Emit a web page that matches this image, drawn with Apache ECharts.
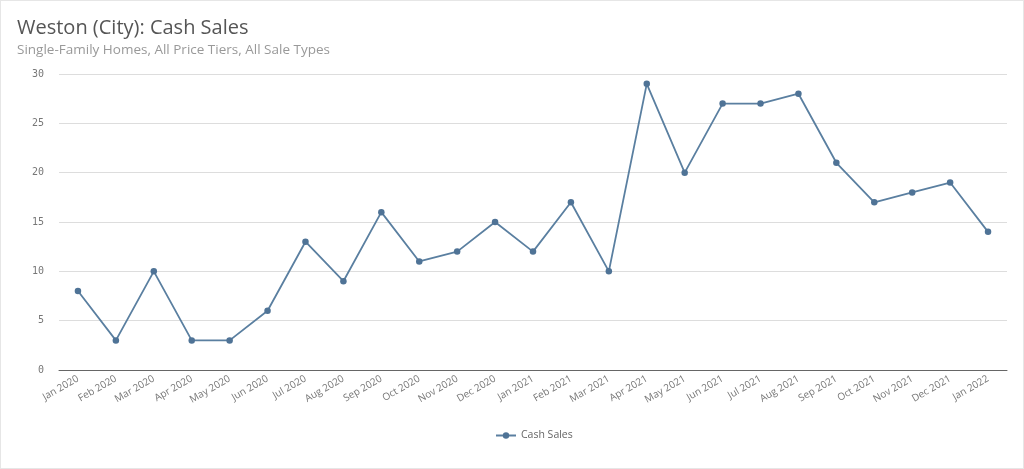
<!DOCTYPE html>
<html><head><meta charset="utf-8">
<script src="https://cdn.jsdelivr.net/npm/echarts@6/dist/echarts.min.js"></script>
<style>html,body{margin:0;padding:0;background:#fff}#c{width:1024px;height:469px;box-sizing:border-box;border:1px solid #e6e6e6}</style>
</head><body><div id="c"></div>
<script>
const categories = ["Jan 2020","Feb 2020","Mar 2020","Apr 2020","May 2020","Jun 2020","Jul 2020","Aug 2020","Sep 2020","Oct 2020","Nov 2020","Dec 2020","Jan 2021","Feb 2021","Mar 2021","Apr 2021","May 2021","Jun 2021","Jul 2021","Aug 2021","Sep 2021","Oct 2021","Nov 2021","Dec 2021","Jan 2022"];
const cashSales = [8,3,10,3,3,6,13,9,16,11,12,15,12,17,10,29,20,27,27,28,21,17,18,19,14];
const titleText = "Weston (City): Cash Sales";
const subtitleText = "Single-Family Homes, All Price Tiers, All Sale Types";
const seriesName = "Cash Sales";
const chart = echarts.init(document.getElementById('c'));
chart.setOption({
  animation:false,
  title:{text:titleText,subtext:subtitleText,left:11,top:12,itemGap:5,
    textStyle:{fontFamily:"Open Sans",fontSize:20,fontWeight:'normal',color:'#555'},
    subtextStyle:{fontFamily:"Open Sans",fontSize:13.5,color:'#999'}},
  legend:{data:[seriesName],left:489,top:424,itemWidth:20,itemHeight:8,
    textStyle:{fontFamily:"Open Sans",fontSize:10.5,color:'#666'}},
  grid:{left:58,right:16,top:73,bottom:98},
  xAxis:{type:'category',data:categories,boundaryGap:true,
    axisLine:{lineStyle:{color:'#666'}},axisTick:{show:false},
    axisLabel:{rotate:30,fontFamily:"Open Sans",fontSize:10,color:'#777',margin:8,interval:0}},
  yAxis:{type:'value',min:0,max:30,interval:5,
    axisLine:{show:false},axisTick:{show:false},
    splitLine:{lineStyle:{color:'#ddd'}},
    axisLabel:{fontFamily:"DejaVu Sans Mono",fontSize:10,color:'#777',margin:15}},
  series:[{name:seriesName,type:'line',data:cashSales,symbol:'circle',symbolSize:6.5,
    lineStyle:{color:'#5a7fa0',width:1.8},itemStyle:{color:'#4f7396'}}]
});
</script></body></html>
